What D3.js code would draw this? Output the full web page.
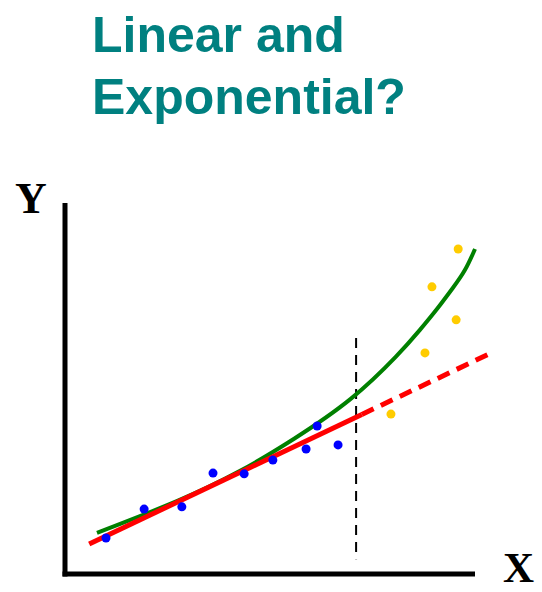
<!DOCTYPE html>
<html>
<head>
<meta charset="utf-8">
<script src="https://cdn.jsdelivr.net/npm/d3@7"></script>
<style>
    body { margin: 0; background: #fff; }
    #chart { width: 542px; height: 592px; }
</style>
</head>
<body>
<div id="chart"></div>
<script>
// title lines
let titleLines = ["Linear and", "Exponential?"];

// observed points (blue = fitted range, gold = later)
let blueX = [10.0, 19.3, 28.5, 36.1, 43.7, 50.7, 58.8, 61.5, 66.6];
let blueY = [9.7, 17.5, 18.1, 27.2, 27.0, 30.7, 33.7, 39.9, 34.8];
let goldX = [79.5, 87.8, 95.4, 89.5, 95.9];
let goldY = [43.1, 59.6, 68.5, 77.4, 87.6];

// linear fit: y = a + b*x, solid up to cutX then dashed
let linA = 5.0, linB = 0.525;
let linStart = 5.9, cutX = 72.4, linEnd = 103.4;

// exponential-ish curve
let curveX = [7.8, 28.5, 42.7, 55.6, 70.2, 81.7, 86.6, 91.0, 94.6, 97.6, 100];
let curveY = [11.1, 19.9, 27.5, 36.1, 46.9, 59.5, 65.8, 71.7, 77.1, 81.6, 87.6];

// vertical cut marker
let markX = 71.0, markY0 = 4.0, markY1 = 63.6;

let svg = d3.select("#chart").append("svg")
    .attr("width", 542)
    .attr("height", 592);

// scales: origin at the axis corner
let x = d3.scaleLinear().domain([0, 100]).range([65, 475]);
let y = d3.scaleLinear().domain([0, 100]).range([574, 203]);

// title
svg.append("g")
    .selectAll("text")
    .data(titleLines)
    .enter()
    .append("text")
    .attr("x", 92)
    .attr("y", (d, i) => 52 + i * 62)
    .attr("font-family", "Liberation Sans, Arial, sans-serif")
    .attr("font-weight", "bold")
    .attr("font-size", 50)
    .attr("fill", "#008080")
    .text(d => d);

// axes
svg.append("line")
    .attr("x1", x(0)).attr("y1", y(100))
    .attr("x2", x(0)).attr("y2", y(0) + 2.5)
    .attr("stroke", "black").attr("stroke-width", 5);
svg.append("line")
    .attr("x1", x(0) - 2.5).attr("y1", y(0))
    .attr("x2", x(100)).attr("y2", y(0))
    .attr("stroke", "black").attr("stroke-width", 5);

svg.append("text")
    .attr("x", 15).attr("y", 213)
    .attr("font-family", "Liberation Serif, Times New Roman, serif")
    .attr("font-weight", "bold")
    .attr("font-size", 44)
    .text("Y");
svg.append("text")
    .attr("x", 503).attr("y", 582)
    .attr("font-family", "Liberation Serif, Times New Roman, serif")
    .attr("font-weight", "bold")
    .attr("font-size", 43)
    .text("X");

// vertical dashed marker
svg.append("line")
    .attr("x1", x(markX)).attr("y1", y(markY1))
    .attr("x2", x(markX)).attr("y2", y(markY0))
    .attr("stroke", "black")
    .attr("stroke-width", 2)
    .attr("stroke-dasharray", "10,7");

// green curve
let curvePts = curveX.map((d, i) => [d, curveY[i]]);
svg.append("path")
    .datum(curvePts)
    .attr("d", d3.line().x(d => x(d[0])).y(d => y(d[1])).curve(d3.curveBasis))
    .attr("fill", "none")
    .attr("stroke", "#008000")
    .attr("stroke-width", 4);

// red line, solid then dashed
let lin = v => linA + linB * v;
svg.append("line")
    .attr("x1", x(linStart)).attr("y1", y(lin(linStart)))
    .attr("x2", x(cutX)).attr("y2", y(lin(cutX)))
    .attr("stroke", "red").attr("stroke-width", 5);
svg.append("line")
    .attr("x1", x(cutX)).attr("y1", y(lin(cutX)))
    .attr("x2", x(linEnd)).attr("y2", y(lin(linEnd)))
    .attr("stroke", "red").attr("stroke-width", 5)
    .attr("stroke-dasharray", "13,8");

// points
svg.append("g")
    .selectAll("circle")
    .data(blueX.map((d, i) => [d, blueY[i]]))
    .enter()
    .append("circle")
    .attr("cx", d => x(d[0]))
    .attr("cy", d => y(d[1]))
    .attr("r", 4.5)
    .attr("fill", "#0000ff");

svg.append("g")
    .selectAll("circle")
    .data(goldX.map((d, i) => [d, goldY[i]]))
    .enter()
    .append("circle")
    .attr("cx", d => x(d[0]))
    .attr("cy", d => y(d[1]))
    .attr("r", 4.5)
    .attr("fill", "#ffcc00");
</script>
</body>
</html>
